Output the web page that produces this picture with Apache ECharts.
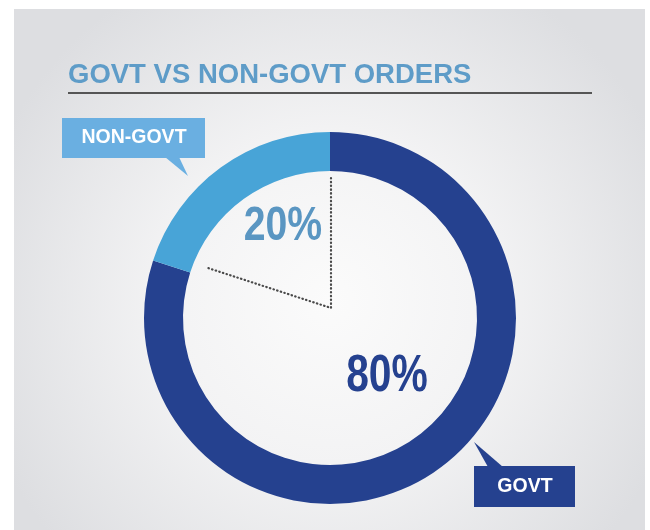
<!DOCTYPE html>
<html>
<head>
<meta charset="utf-8">
<script src="https://cdn.jsdelivr.net/npm/echarts@6/dist/echarts.min.js"></script>
<style>
  html, body { margin: 0; padding: 0; background: #fff; }
  #main { width: 650px; height: 530px; }
</style>
</head>
<body>
<div id="main"></div>
<script>
// data
const titleText = 'GOVT VS NON-GOVT ORDERS';
const categories = ['GOVT', 'NON-GOVT'];
const values = [80, 20];
const colors = ['#25418f', '#48a4d7'];

const total = values.reduce((a, b) => a + b, 0);
const pct = values.map(v => Math.round(v / total * 100) + '%');

const chart = echarts.init(document.getElementById('main'));

// dotted guide lines meet here; one goes straight up, the other follows the slice edge
const anchor = [331, 308];
const guideLen = 130;
const edgeDeg = 90 + 360 * values[1] / total;
const rad = edgeDeg * Math.PI / 180;
const guidePts = [
  [anchor[0], anchor[1] - guideLen],
  anchor,
  [anchor[0] + guideLen * Math.cos(rad), anchor[1] - guideLen * Math.sin(rad)]
];

const sans = '"Liberation Sans", Arial, sans-serif';

// no narrow font installed, so squeeze the big numbers horizontally
function bigNumber(text, x, y, size, color) {
  return {
    type: 'text', z: 100, x: x, y: y, scaleX: 0.8,
    style: {
      text: text, x: 0, y: 0, font: 'bold ' + size + 'px ' + sans,
      fill: color, align: 'center', verticalAlign: 'middle'
    }
  };
}

const option = {
  backgroundColor: '#fff',
  animation: false,
  graphic: [
    {
      type: 'rect', z: -10, silent: true,
      shape: { x: 14, y: 9, width: 631, height: 521 },
      style: {
        fill: new echarts.graphic.RadialGradient(0.5, 0.56, 0.7, [
          { offset: 0, color: '#fbfbfb' },
          { offset: 0.45, color: '#f3f3f4' },
          { offset: 1, color: '#dddee1' }
        ])
      }
    },
    {
      type: 'text', z: 100,
      style: {
        text: titleText, x: 68, y: 75, font: 'bold 27.5px ' + sans,
        fill: '#5e9cc8', verticalAlign: 'middle'
      }
    },
    {
      type: 'line', z: 100,
      shape: { x1: 68, y1: 93, x2: 592, y2: 93 },
      style: { stroke: '#555', lineWidth: 2 }
    },
    {
      type: 'polyline', z: 100,
      shape: { points: guidePts },
      style: { stroke: '#4a4a4a', lineWidth: 2.2, lineDash: [0.5, 3.3], lineCap: 'round', fill: null }
    },
    // NON-GOVT callout
    {
      type: 'polygon', z: 100,
      shape: { points: [[165, 157], [179, 157], [188, 176]] },
      style: { fill: '#6aafe1' }
    },
    {
      type: 'rect', z: 100,
      shape: { x: 62, y: 118, width: 143, height: 40 },
      style: { fill: '#6aafe1' }
    },
    {
      type: 'text', z: 101,
      style: {
        text: categories[1], x: 134, y: 138, font: 'bold 19.5px ' + sans,
        fill: '#fff', align: 'center', verticalAlign: 'middle'
      }
    },
    // GOVT callout
    {
      type: 'polygon', z: 100,
      shape: { points: [[488, 467], [503, 467], [474, 442]] },
      style: { fill: colors[0] }
    },
    {
      type: 'rect', z: 100,
      shape: { x: 474, y: 466, width: 101, height: 41 },
      style: { fill: colors[0] }
    },
    {
      type: 'text', z: 101,
      style: {
        text: categories[0], x: 525, y: 487, font: 'bold 19.5px ' + sans,
        fill: '#fff', align: 'center', verticalAlign: 'middle'
      }
    },
    // percentages
    bigNumber(pct[1], 283, 226, 49, '#5a96c2'),
    bigNumber(pct[0], 387, 377, 51, colors[0])
  ],
  series: [
    {
      type: 'pie',
      silent: true,
      center: [330, 318],
      radius: [147, 186],
      startAngle: 90,
      clockwise: true,
      label: { show: false },
      labelLine: { show: false },
      emphasis: { disabled: true },
      data: categories.map((c, i) => ({
        name: c, value: values[i], itemStyle: { color: colors[i] }
      }))
    }
  ]
};

chart.setOption(option);
</script>
</body>
</html>
